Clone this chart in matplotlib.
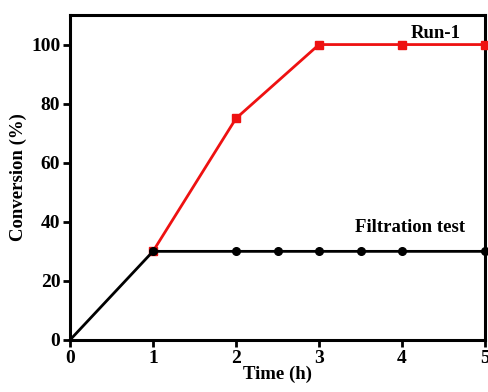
import matplotlib.pyplot as plt

plt.rcParams['font.family'] = ['Liberation Serif', 'DejaVu Serif']
plt.rcParams['font.weight'] = 'bold'

# Data
run1_time = [1, 2, 3, 4, 5]
run1_conv = [30, 75, 100, 100, 100]

filt_time = [0, 1, 2, 2.5, 3, 3.5, 4, 5]
filt_conv = [0, 30, 30, 30, 30, 30, 30, 30]

fig = plt.figure(figsize=(4.88, 3.92), dpi=100)
ax = fig.add_axes([0.1434, 0.1327, 0.8505, 0.829])

ax.plot(run1_time, run1_conv, color="#ee1111", lw=2, marker="s", ms=5.5,
        clip_on=False, zorder=3)
ax.plot(filt_time, filt_conv, color="black", lw=2, marker="o", ms=5.5,
        markevery=list(range(1, len(filt_time))), clip_on=False, zorder=4)

ax.text(4.4, 103.7, "Run-1", fontsize=13.5, fontweight="bold", ha="center", va="center")
ax.text(4.1, 38.2, "Filtration test", fontsize=13.5, fontweight="bold", ha="center", va="center")

ax.set_xlim(0, 5)
ax.set_ylim(0, 110)
ax.set_xticks([0, 1, 2, 3, 4, 5])
ax.set_yticks([0, 20, 40, 60, 80, 100])
ax.set_xlabel("Time (h)", fontsize=13.5, fontweight="bold", labelpad=-1)
ax.set_ylabel("Conversion (%)", fontsize=13.5, fontweight="bold", labelpad=3)
ax.tick_params(direction="out", length=5, width=2, labelsize=14, pad=2)
for s in ax.spines.values():
    s.set_linewidth(2.2)
for lab in ax.get_xticklabels() + ax.get_yticklabels():
    lab.set_fontweight("bold")

fig.savefig("out.png", dpi=100)
